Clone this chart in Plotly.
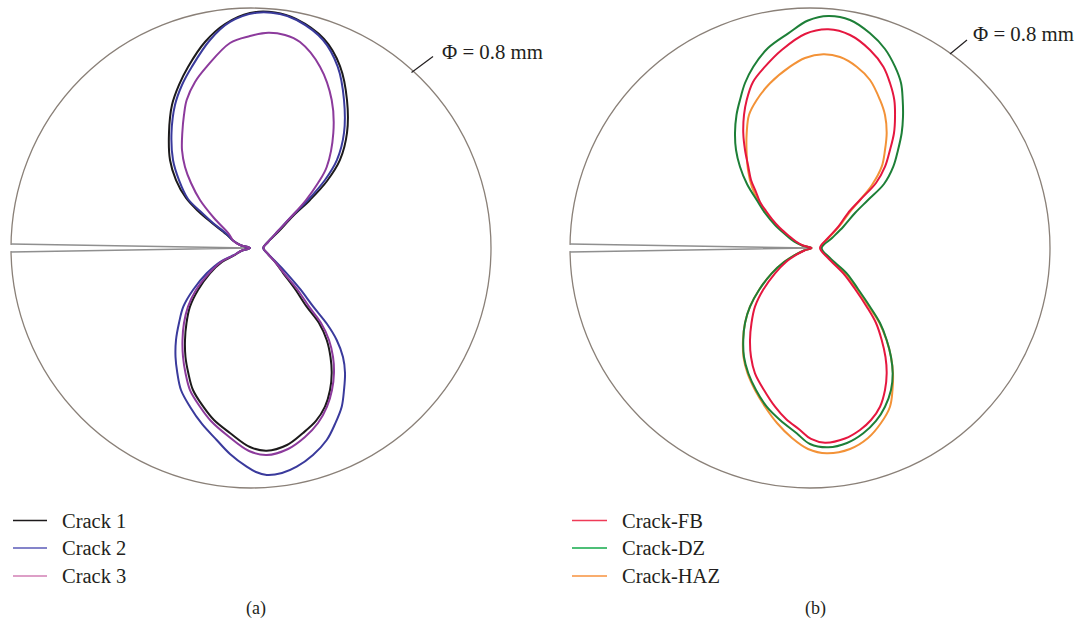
import plotly.graph_objects as go

# ---------------- data (mm, origin at specimen centre) ----------------
R_SPEC = 0.4  # specimen radius, diameter 0.8 mm

crack_a_x = [-0.4, -0.0017, -0.4]
crack_a_y = [0.0067, 0.0, -0.0067]
crack_b_x = [-0.4, 0.0025, -0.4]
crack_b_y = [0.0067, 0.0, -0.0067]

crack1_x = [-0.0017, -0.0183, -0.03, -0.0417, -0.065, -0.0883, -0.1083, -0.125, -0.135, -0.1367, -0.1317, -0.12,
            -0.105, -0.0767, -0.0433, -0.0017, 0.04, 0.075, 0.1217, 0.1483, 0.16, 0.16, 0.1483, 0.1267, 0.0983, 0.07,
            0.0467, 0.0283, 0.0205,
            0.0283, 0.04, 0.0538, 0.0733, 0.0928, 0.1133, 0.1262, 0.1325, 0.1345, 0.1317, 0.1233, 0.1083, 0.0867, 0.06,
            0.0262, -0.0017, -0.035, -0.0617, -0.0795, -0.0967, -0.1045, -0.1092, -0.11, -0.1075, -0.1017, -0.0883,
            -0.0683, -0.0483, -0.0283, -0.0167, -0.0017]
crack1_y = [0.0, 0.005, 0.0125, 0.0233, 0.0417, 0.0617, 0.0833, 0.1133, 0.1467, 0.1917, 0.2383, 0.2717,
            0.3017, 0.3433, 0.3733, 0.3917, 0.3925, 0.3817, 0.3483, 0.3033, 0.2467, 0.1917, 0.1467, 0.1117, 0.08, 0.0533,
            0.0283, 0.01, 0.0,
            -0.01, -0.0233, -0.0422, -0.0683, -0.0978, -0.125, -0.1533, -0.1817, -0.2083, -0.2367, -0.2645, -0.2883,
            -0.3083, -0.3283, -0.3378, -0.3317, -0.3083, -0.2867, -0.2645, -0.2367, -0.2083, -0.1817, -0.1533, -0.125,
            -0.0978, -0.07, -0.0422, -0.0233, -0.0125, -0.005, 0.0]

crack2_x = [-0.0017, -0.0183, -0.03, -0.0405, -0.0633, -0.085, -0.105, -0.12, -0.13, -0.1325, -0.1267, -0.115,
            -0.0988, -0.0683, -0.035, 0.0095, 0.0483, 0.0762, 0.12, 0.1445, 0.155, 0.155, 0.1433, 0.1233, 0.095, 0.0683,
            0.045, 0.0283, 0.0205,
            0.0283, 0.0417, 0.0595, 0.0817, 0.1038, 0.1267, 0.1428, 0.1533, 0.1567, 0.155, 0.1512, 0.14, 0.1262, 0.1033,
            0.0762, 0.0517, 0.0262, 0.0083, -0.0072, -0.035, -0.0572, -0.0817, -0.1017, -0.1167, -0.1228, -0.1258,
            -0.125, -0.12, -0.1128, -0.0967, -0.0738, -0.0517, -0.03, -0.0167, -0.0017]
crack2_y = [0.0, 0.005, 0.0125, 0.0233, 0.0417, 0.0617, 0.0817, 0.1133, 0.1467, 0.1917, 0.2383, 0.2717,
            0.3017, 0.3467, 0.3767, 0.3922, 0.39, 0.38, 0.3467, 0.3022, 0.2467, 0.1917, 0.1467, 0.1133, 0.08, 0.0533,
            0.0283, 0.01, 0.0,
            -0.01, -0.0233, -0.0422, -0.0683, -0.0978, -0.1267, -0.1533, -0.1817, -0.2083, -0.2367, -0.2645, -0.2933,
            -0.32, -0.345, -0.3645, -0.375, -0.3783, -0.3733, -0.3645, -0.3433, -0.32, -0.2933, -0.2645, -0.2367,
            -0.2083, -0.1817, -0.1533, -0.125, -0.0978, -0.07, -0.0422, -0.0233, -0.0125, -0.005, 0.0]

crack3_x = [-0.0017, -0.0183, -0.03, -0.0367, -0.0617, -0.085, -0.1, -0.11, -0.115, -0.1145, -0.1117, -0.1072,
            -0.0933, -0.0738, -0.035, -0.0017, 0.0288, 0.0567, 0.0817, 0.115, 0.1345, 0.1372, 0.1262, 0.1117, 0.0917,
            0.0683, 0.045, 0.0283, 0.0205,
            0.0283, 0.04, 0.055, 0.0767, 0.0967, 0.1167, 0.13, 0.1367, 0.1383, 0.135, 0.1267, 0.1117, 0.09, 0.0617,
            0.0262, -0.0033, -0.0383, -0.0667, -0.085, -0.1017, -0.1092, -0.1133, -0.1142, -0.1117, -0.105, -0.0917,
            -0.07, -0.05, -0.0292, -0.0167, -0.0017]
crack3_y = [0.0, 0.005, 0.0125, 0.0233, 0.05, 0.08, 0.1083, 0.135, 0.1633, 0.1917, 0.2217, 0.2467,
            0.2767, 0.3022, 0.3417, 0.3533, 0.3588, 0.355, 0.3433, 0.3022, 0.2467, 0.1917, 0.135, 0.1083, 0.08,
            0.0533, 0.0283, 0.01, 0.0,
            -0.01, -0.0233, -0.0422, -0.0683, -0.0978, -0.125, -0.1533, -0.1817, -0.2083, -0.2367, -0.2645, -0.2917,
            -0.315, -0.335, -0.345, -0.3383, -0.3133, -0.2883, -0.2645, -0.2367, -0.2083, -0.1817, -0.1533, -0.125,
            -0.0978, -0.07, -0.0422, -0.0233, -0.0125, -0.005, 0.0]

fb_x = [0.0025, -0.0117, -0.0233, -0.035, -0.05, -0.0633, -0.0733, -0.0833, -0.09, -0.0983, -0.1028, -0.1083,
        -0.1112, -0.11, -0.1055, -0.095, -0.075, -0.0472, -0.0083, 0.0305, 0.0667, 0.1, 0.1222, 0.1333, 0.1405,
        0.1417, 0.14, 0.1333, 0.125, 0.11, 0.0833, 0.0633, 0.0472, 0.03, 0.0167,
        0.03, 0.0555, 0.075, 0.0945, 0.11, 0.1195, 0.1258, 0.1278, 0.125, 0.1167, 0.1017, 0.0833, 0.0583, 0.025,
        0.0017, -0.0167, -0.04, -0.0583, -0.0767, -0.0917, -0.0983, -0.1, -0.0975, -0.0917, -0.0783, -0.0583, -0.04,
        -0.0217, -0.0092, 0.0025]
fb_y = [0.0, 0.0042, 0.0108, 0.02, 0.0333, 0.0483, 0.0617, 0.0767, 0.0933, 0.1133, 0.1355, 0.1633,
        0.1917, 0.2217, 0.2467, 0.2767, 0.3022, 0.33, 0.3567, 0.3645, 0.355, 0.33, 0.3022, 0.275, 0.2467,
        0.2183, 0.1917, 0.1633, 0.1355, 0.1083, 0.08, 0.0583, 0.0355, 0.0167, 0.0,
        -0.0167, -0.0422, -0.0683, -0.0978, -0.125, -0.1533, -0.1817, -0.2088, -0.2367, -0.2645, -0.2867, -0.3033,
        -0.3175, -0.3245, -0.3183, -0.3033, -0.285, -0.2645, -0.2367, -0.2088, -0.1817, -0.1533, -0.125, -0.0978,
        -0.07, -0.0422, -0.0233, -0.0108, -0.0042, 0.0]

dz_x = [0.0025, -0.0133, -0.0267, -0.04, -0.0583, -0.075, -0.0888, -0.105, -0.1167, -0.1233, -0.125, -0.1225,
        -0.1167, -0.1083, -0.0945, -0.07, -0.0362, -0.0033, 0.0305, 0.0667, 0.1, 0.125, 0.1417, 0.1517, 0.1545,
        0.155, 0.1528, 0.1467, 0.1388, 0.1233, 0.0967, 0.075, 0.0555, 0.0367, 0.0195,
        0.0333, 0.0612, 0.08, 0.1, 0.1167, 0.1278, 0.135, 0.1378, 0.135, 0.125, 0.11, 0.0888, 0.0617, 0.0305, 0.0,
        -0.0222, -0.05, -0.0722, -0.09, -0.1028, -0.11, -0.1112, -0.1083, -0.1, -0.085, -0.0638, -0.0433, -0.0233,
        -0.01, 0.0025]
dz_y = [0.0, 0.0042, 0.0108, 0.0217, 0.0383, 0.0583, 0.08, 0.1067, 0.1355, 0.1633, 0.1917, 0.2217,
        0.2467, 0.275, 0.3022, 0.3333, 0.3578, 0.3792, 0.3867, 0.38, 0.3578, 0.3317, 0.3022, 0.275, 0.2467,
        0.2183, 0.1917, 0.1633, 0.1355, 0.1067, 0.08, 0.0583, 0.0355, 0.0167, 0.0,
        -0.0167, -0.0422, -0.0683, -0.0978, -0.125, -0.1533, -0.1817, -0.2088, -0.2367, -0.2645, -0.2883, -0.3088,
        -0.325, -0.3322, -0.3267, -0.3088, -0.2867, -0.2645, -0.2367, -0.2088, -0.1817, -0.1533, -0.125, -0.0978,
        -0.07, -0.0422, -0.0233, -0.0108, -0.0042, 0.0]

haz_x = [0.0025, -0.0125, -0.025, -0.0375, -0.055, -0.0717, -0.085, -0.0967, -0.1033, -0.1058, -0.1055, -0.1017,
         -0.0888, -0.0667, -0.0333, -0.0083, 0.0222, 0.05, 0.0778, 0.1, 0.1167, 0.125, 0.1278, 0.125, 0.1195,
         0.1033, 0.0833, 0.065, 0.0483, 0.0308, 0.0175,
         0.0317, 0.0583, 0.0783, 0.0983, 0.1158, 0.1275, 0.135, 0.1383, 0.1375, 0.1333, 0.1183, 0.0967, 0.0667,
         0.0278, -0.0033, -0.03, -0.055, -0.075, -0.0917, -0.1042, -0.1108, -0.1117, -0.1083, -0.1, -0.085, -0.0638,
         -0.0433, -0.0233, -0.01, 0.0025]
haz_y = [0.0, 0.0042, 0.0108, 0.0208, 0.0367, 0.0567, 0.0767, 0.1017, 0.13, 0.1633, 0.1917, 0.2217,
         0.2467, 0.2745, 0.3022, 0.3167, 0.3228, 0.3183, 0.3022, 0.28, 0.2467, 0.2217, 0.1917, 0.1633, 0.1355,
         0.105, 0.08, 0.0583, 0.0355, 0.0167, 0.0,
         -0.0167, -0.0422, -0.0683, -0.0978, -0.125, -0.1533, -0.1817, -0.2088, -0.2367, -0.2645, -0.2917, -0.3167,
         -0.335, -0.3422, -0.335, -0.3167, -0.2917, -0.2645, -0.2367, -0.2088, -0.1817, -0.1533, -0.125, -0.0978,
         -0.07, -0.0422, -0.0233, -0.0108, -0.0042, 0.0]

names_a = ["Crack 1", "Crack 2", "Crack 3"]
names_b = ["Crack-FB", "Crack-DZ", "Crack-HAZ"]
colors_a = ["#1c1a1b", "#3a3a9c", "#8c3a9c"]
colors_b = ["#e5173f", "#1d7f37", "#f39237"]
legend_colors_a = ["#1c1a1b", "#5b5bb8", "#d27fb4"]
legend_colors_b = ["#ef3b57", "#12aa4a", "#f7923e"]
dia_label = "Φ = 0.8 mm"
panel_labels = ["(a)", "(b)"]

# ---------------- figure ----------------
W, H = 1080, 629
def px(x):
    return x / W
def py(y):
    return 1 - y / H

fig = go.Figure()

CRACK_COL = "#8f8f8f"
fig.add_trace(go.Scatter(x=crack_a_x, y=crack_a_y, mode="lines", xaxis="x", yaxis="y",
                         line=dict(color=CRACK_COL, width=1.6), showlegend=False, hoverinfo="skip"))
fig.add_trace(go.Scatter(x=crack_b_x, y=crack_b_y, mode="lines", xaxis="x2", yaxis="y2",
                         line=dict(color=CRACK_COL, width=1.6), showlegend=False, hoverinfo="skip"))

for xs, ys, nm, col in zip([crack1_x, crack2_x, crack3_x], [crack1_y, crack2_y, crack3_y], names_a, colors_a):
    fig.add_trace(go.Scatter(x=xs, y=ys, mode="lines", name=nm, xaxis="x", yaxis="y",
                             line=dict(color=col, width=2, shape="spline", smoothing=1.0), showlegend=False))

for xs, ys, nm, col in zip([haz_x, dz_x, fb_x], [haz_y, dz_y, fb_y], names_b[::-1], colors_b[::-1]):
    fig.add_trace(go.Scatter(x=xs, y=ys, mode="lines", name=nm, xaxis="x2", yaxis="y2",
                             line=dict(color=col, width=2, shape="spline", smoothing=1.0), showlegend=False))

shapes = []
for xr, yr in [("x", "y"), ("x2", "y2")]:
    shapes.append(dict(type="circle", xref=xr, yref=yr, x0=-R_SPEC, x1=R_SPEC, y0=-R_SPEC, y1=R_SPEC,
                       line=dict(color="#8a8078", width=1.3), layer="below"))
    # open crack mouth: no outline between the two crack faces
    shapes.append(dict(type="line", xref=xr, yref=yr, x0=-R_SPEC, x1=-R_SPEC, y0=-0.0052, y1=0.0052,
                       line=dict(color="white", width=3), layer="below"))

# leader lines for the diameter label
shapes.append(dict(type="line", xref="paper", yref="paper", x0=px(411.5), y0=py(72.5), x1=px(433), y1=py(56.5),
                   line=dict(color="#231f20", width=1.2)))
shapes.append(dict(type="line", xref="paper", yref="paper", x0=px(950), y0=py(54), x1=px(967), y1=py(40),
                   line=dict(color="#231f20", width=1.2)))

annotations = [
    dict(text=dia_label, x=px(440), y=py(51), xref="paper", yref="paper", xanchor="left", yanchor="middle",
         showarrow=False, font=dict(family="Liberation Serif", size=20.8, color="#231f20")),
    dict(text=dia_label, x=px(971), y=py(33), xref="paper", yref="paper", xanchor="left", yanchor="middle",
         showarrow=False, font=dict(family="Liberation Serif", size=20.8, color="#231f20")),
    dict(text=panel_labels[0], x=px(256), y=py(608), xref="paper", yref="paper", xanchor="center",
         yanchor="middle", showarrow=False, font=dict(family="Liberation Serif", size=18, color="#231f20")),
    dict(text=panel_labels[1], x=px(815), y=py(608), xref="paper", yref="paper", xanchor="center",
         yanchor="middle", showarrow=False, font=dict(family="Liberation Serif", size=18, color="#231f20")),
]

rows = [520.5, 548, 576]
for (x0, x1, xt, names, cols) in [(13, 47, 59.5, names_a, legend_colors_a), (572, 607, 619.5, names_b, legend_colors_b)]:
    for yy, nm, col in zip(rows, names, cols):
        shapes.append(dict(type="line", xref="paper", yref="paper", x0=px(x0), x1=px(x1), y0=py(yy), y1=py(yy),
                           line=dict(color=col, width=1.6)))
        annotations.append(dict(text=nm, x=px(xt), y=py(yy), xref="paper", yref="paper", xanchor="left",
                                yanchor="middle", showarrow=False,
                                font=dict(family="Liberation Serif", size=20.5, color="#231f20")))

axis_common = dict(visible=False, showgrid=False, zeroline=False, fixedrange=True)
fig.update_layout(
    width=W, height=H,
    margin=dict(l=0, r=0, t=0, b=0),
    paper_bgcolor="white", plot_bgcolor="white",
    xaxis=dict(domain=[0, 0.5], range=[-251 / 600, 289 / 600], anchor="y", **axis_common),
    yaxis=dict(domain=[0, 1], range=[-381 / 600, 248 / 600], anchor="x", **axis_common),
    xaxis2=dict(domain=[0.5, 1], range=[-270 / 600, 270 / 600], anchor="y2", **axis_common),
    yaxis2=dict(domain=[0, 1], range=[-381 / 600, 248 / 600], anchor="x2", **axis_common),
    shapes=shapes,
    annotations=annotations,
    showlegend=False,
)

fig.write_html("out.html", config={"displayModeBar": False},
               post_script="document.body.style.margin='0px';document.body.style.overflow='hidden';")
